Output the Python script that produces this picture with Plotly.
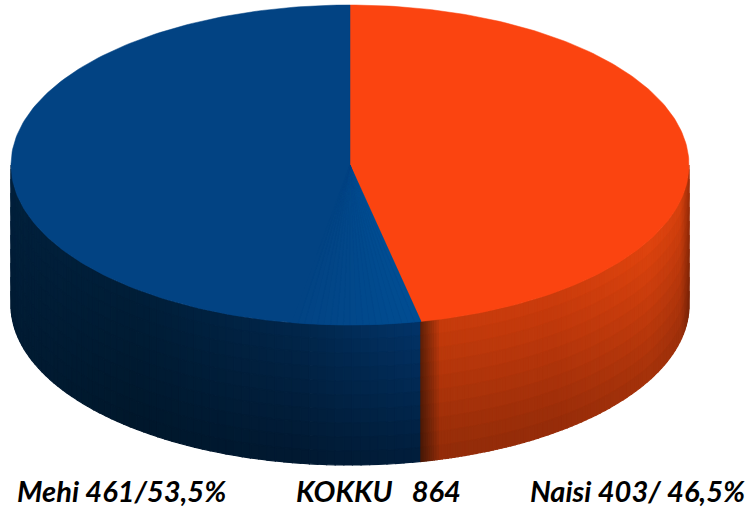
import math
import plotly.graph_objects as go

categories = ["Naisi", "Mehi"]
values = [403, 461]
shares = [46.5, 53.5]
labels = ["Mehi 461/53,5%", "KOKKU   864", "Naisi 403/ 46,5%"]
label_centers = [121, 378, 637]

W, H = 751, 507
CX, CY, RX, RY, DEPTH = 350, 165, 339, 160, 140
ORANGE, BLUE = (251, 68, 16), (2, 67, 131)
BLUE_LIGHT = (1, 77, 146)

ORANGE_STOPS = [(0.0, (95, 32, 8)), (0.075, (200, 60, 12)), (0.5, (205, 60, 12)), (0.85, (225, 68, 14)),
                (0.97, (215, 65, 14)), (1.0, (170, 50, 10))]
BLUE_STOPS = [(0.0, (1, 32, 60)), (0.3, (0, 30, 56)), (0.7, (1, 38, 75)), (1.0, (2, 52, 105))]


def pt(deg, dy=0):
    a = math.radians(deg)
    return CX + RX * math.sin(a), CY - RY * math.cos(a) + dy


def rgb(c):
    return "rgb(%d,%d,%d)" % tuple(round(v) for v in c)


def shade(stops, t, factor):
    t = min(max(t, 0), 1)
    for (t0, c0), (t1, c1) in zip(stops, stops[1:]):
        if t <= t1:
            f = (t - t0) / (t1 - t0)
            return rgb([(c0[i] + (c1[i] - c0[i]) * f) * factor for i in range(3)])
    return rgb([c * factor for c in stops[-1][1]])


split = values[0] / sum(values) * 360
fig = go.Figure()
split_x = pt(split)[0]


def poly(p, color, width=1.2, name=None):
    fig.add_trace(go.Scatter(x=[q[0] for q in p], y=[q[1] for q in p], mode="lines", fill="toself",
                             fillcolor=color, line=dict(color=color, width=width), name=name,
                             hoverinfo="name" if name else "skip", showlegend=False))


def side(a_from, a_to, stops, x0, x1, bottom_at, cols, power=1.0):
    rows = 10
    for i in range(cols):
        u0, u1 = (i / cols) ** power, ((i + 1) / cols) ** power
        a0 = a_from + (a_to - a_from) * u0
        a1 = a_from + (a_to - a_from) * u1
        t = (pt((a0 + a1) / 2)[0] - x0) / (x1 - x0)
        bf = bottom_at(t)
        for r in range(rows):
            d0, d1 = DEPTH * r / rows, DEPTH * (r + 1) / rows
            color = shade(stops, t, 1 - (1 - bf) * (r + 0.5) / rows)
            poly([pt(a0, d0), pt(a1, d0), pt(a1, d1), pt(a0, d1), pt(a0, d0)], color)


side(270, split, BLUE_STOPS, CX - RX, split_x, lambda t: 0.85 - 0.3 * t, 70)
side(split, 90, ORANGE_STOPS, split_x, CX + RX, lambda t: 0.72, 80, power=1.6)

steps = 180
poly([(CX, CY)] + [pt(split * k / steps) for k in range(steps + 1)] + [(CX, CY)], rgb(ORANGE), 0.5, categories[0])
poly([(CX, CY)] + [pt(split + (360 - split) * k / steps) for k in range(steps + 1)] + [(CX, CY)], rgb(BLUE), 0.5, categories[1])

# faint lighter glow on the blue top next to the split
glow = 20
for k in range(glow):
    a0 = split + 22 * k / glow
    a1 = split + 22 * (k + 1) / glow
    f = (k + 0.5) / glow
    c = [BLUE_LIGHT[i] + (BLUE[i] - BLUE_LIGHT[i]) * f for i in range(3)]
    poly([(CX, CY), pt(a0), pt((a0 + a1) / 2), pt(a1), (CX, CY)], rgb(c), 0.3)

for text, x in zip(labels, label_centers):
    fig.add_annotation(x=x, y=490, text="<b><i>%s</i></b>" % text, showarrow=False, xanchor="center",
                       yanchor="middle", font=dict(family="Lato", size=29, color="black"))

fig.update_layout(width=W, height=H, margin=dict(l=0, r=0, t=0, b=0), paper_bgcolor="white", plot_bgcolor="white",
                  xaxis=dict(range=[0, W], visible=False, fixedrange=True),
                  yaxis=dict(range=[H, 0], visible=False, fixedrange=True))
fig.write_html("out.html", config={"displayModeBar": False},
               post_script="document.body.style.margin='0';document.documentElement.style.overflow='hidden';")
